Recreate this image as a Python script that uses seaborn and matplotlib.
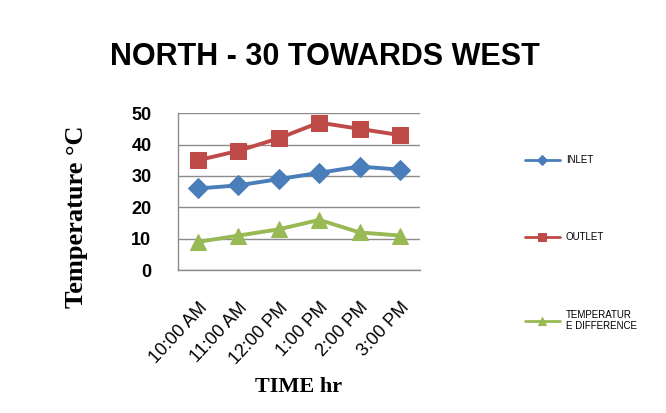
import matplotlib
matplotlib.use('Agg')
import matplotlib.pyplot as plt
import seaborn as sns
import pandas as pd

# data
times = ['10:00 AM', '11:00 AM', '12:00 PM', '1:00 PM', '2:00 PM', '3:00 PM']
inlet = [26, 27, 29, 31, 33, 32]
outlet = [35, 38, 42, 47, 45, 43]
temp_diff = [9, 11, 13, 16, 12, 11]
series_names = ['INLET', 'OUTLET', 'TEMPERATUR\nE DIFFERENCE']

df = pd.DataFrame({
    'time': times * 3,
    'value': inlet + outlet + temp_diff,
    'series': [series_names[0]] * 6 + [series_names[1]] * 6 + [series_names[2]] * 6,
})

sns.set_style('white')
plt.rcParams['font.family'] = ['Liberation Sans', 'DejaVu Sans']
plt.rcParams['text.color'] = 'black'
plt.rcParams['axes.labelcolor'] = 'black'
plt.rcParams['xtick.color'] = 'black'
plt.rcParams['ytick.color'] = 'black'

fig = plt.figure(figsize=(6.66, 4.13), dpi=100)
ax = fig.add_axes([0.267, 0.346, 0.364, 0.380])

palette = ['#4A7EBB', '#BE4B48', '#98B954']
markers = ['D', 's', '^']
msizes = [10, 11, 11]
for name, col, mk, ms in zip(series_names, palette, markers, msizes):
    sub = df[df['series'] == name]
    sns.lineplot(data=sub, x='time', y='value', color=col, marker=mk,
                 markersize=ms, markeredgecolor=col, linewidth=2.8,
                 label=name, ax=ax, sort=False)

ax.set_xlim(-0.5, 5.5)
ax.set_ylim(0, 50)
ax.set_yticks([0, 10, 20, 30, 40, 50])
ax.grid(axis='y', color='#8c8c8c', linewidth=1)
ax.set_axisbelow(True)
for s in ['top', 'right']:
    ax.spines[s].set_visible(False)
for s in ['left', 'bottom']:
    ax.spines[s].set_color('#8c8c8c')
    ax.spines[s].set_linewidth(1)
ax.tick_params(axis='y', labelsize=13, length=0, pad=19)
for t in ax.get_yticklabels():
    t.set_fontweight('bold')
ax.tick_params(axis='x', labelsize=13, length=0, pad=21)
plt.setp(ax.get_xticklabels(), rotation=47, ha='right', rotation_mode='anchor')

ax.set_xlabel('TIME hr', fontsize=16, fontweight='bold', family='Liberation Serif')
ax.xaxis.set_label_coords(0.5, -0.68)
ax.set_ylabel('Temperature °C', fontsize=19, fontweight='bold', family='Liberation Serif')
ax.yaxis.set_label_coords(-0.37, 0.34)

fig.text(0.488, 0.862, 'NORTH - 30 TOWARDS WEST', ha='center', va='center',
         fontsize=22, fontweight='bold', color='black')

leg = ax.legend(loc='upper left', bbox_to_anchor=(0.775, 0.645), bbox_transform=fig.transFigure,
                frameon=False, fontsize=7, labelspacing=6.9, handlelength=3.6,
                handletextpad=0.6, markerscale=0.5)
for line in leg.get_lines():
    line.set_linewidth(2)

fig.savefig('out.png', dpi=100)
